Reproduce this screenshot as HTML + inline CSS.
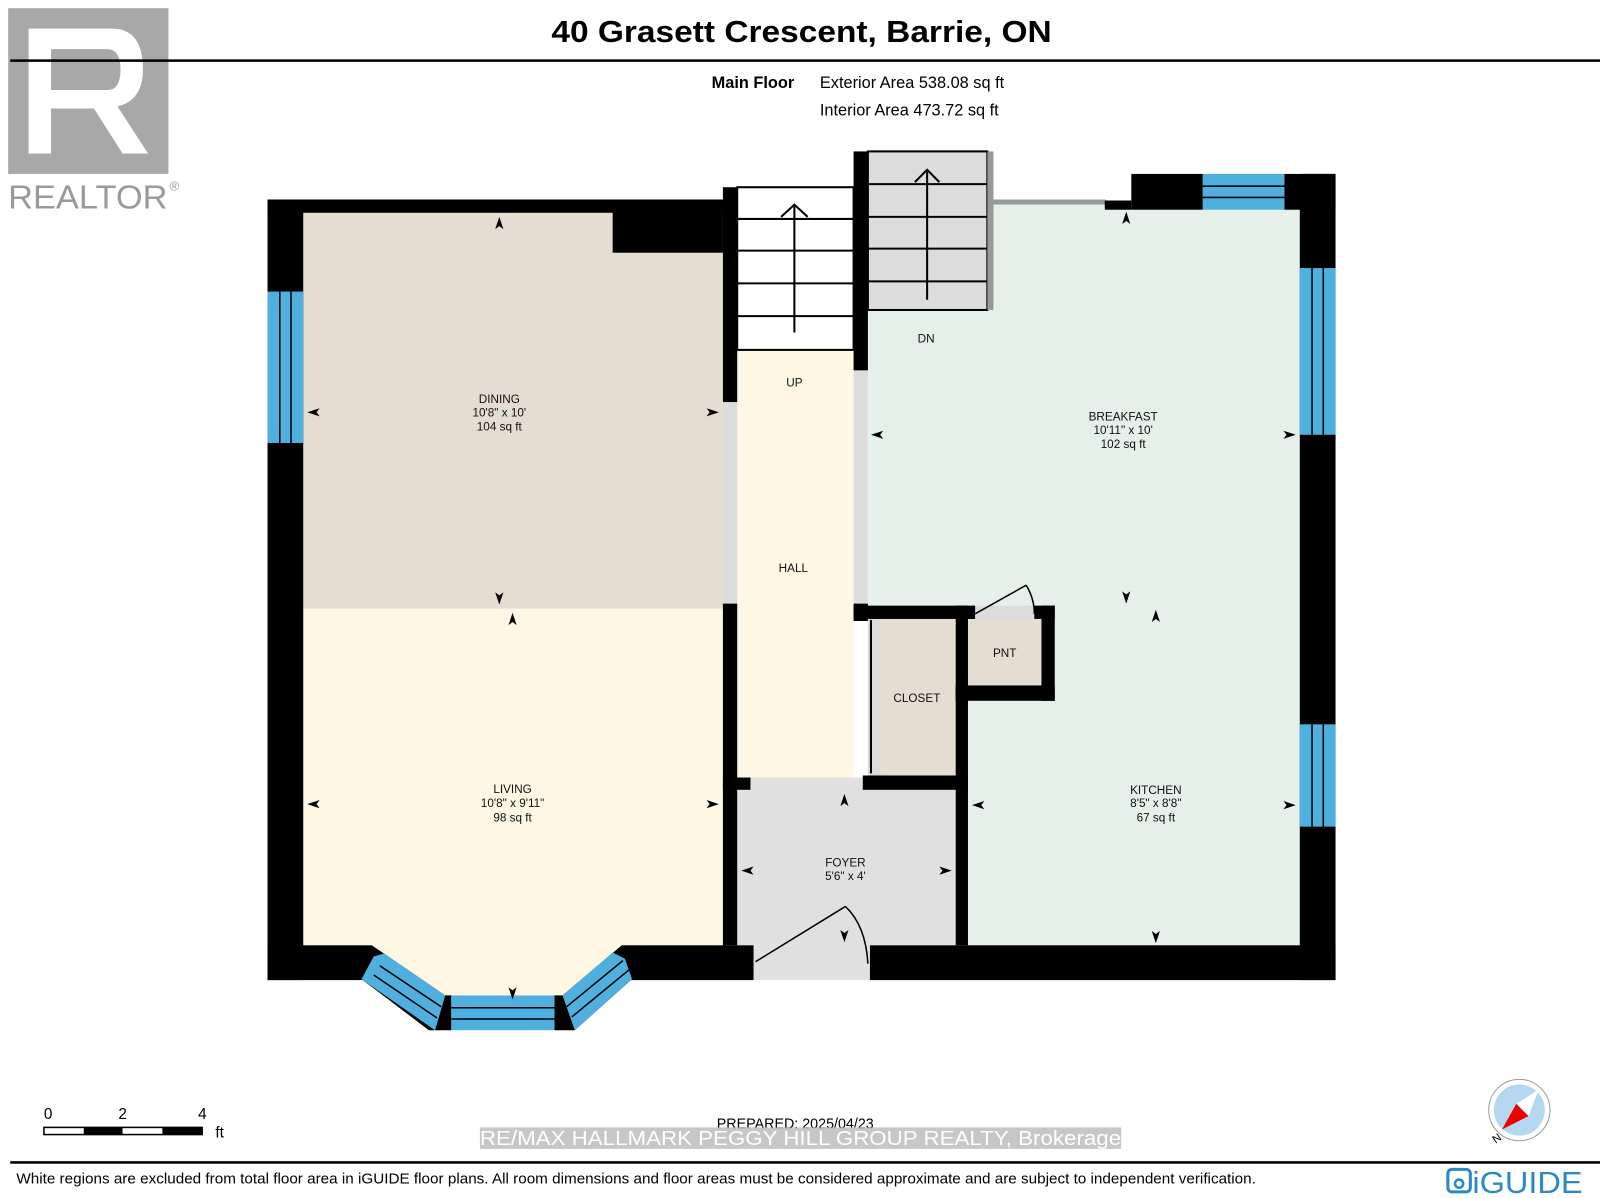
<!DOCTYPE html>
<html><head><meta charset="utf-8"><style>
html,body{margin:0;padding:0;background:#fff;width:1600px;height:1198px;overflow:hidden}
svg{display:block}
text{font-family:"Liberation Sans",Arial,sans-serif}
</style></head><body>
<svg width="1600" height="1198" viewBox="0 0 1567 1171" preserveAspectRatio="none" xmlns="http://www.w3.org/2000/svg">
<!-- Realtor logo -->
<rect x="8" y="8" width="157" height="162" fill="#a8a8a8"/>
<path d="M28 28 H110 Q140 28 140 68 Q140 98 115 104 L145 150 H120 L92 106 H50 V150 H28 Z M50 48 V88 H105 Q118 88 118 68 Q118 48 105 48 Z" fill="#fff"/>
<text x="8" y="204" font-size="33" fill="#9a9a9a" textLength="156" lengthAdjust="spacingAndGlyphs">REALTOR</text>
<text x="166" y="186" font-size="13" fill="#9a9a9a">®</text>
<!-- Title -->
<text x="785" y="41" font-size="30" font-weight="bold" text-anchor="middle" textLength="490" lengthAdjust="spacingAndGlyphs">40 Grasett Crescent, Barrie, ON</text>
<rect x="10" y="58" width="1557" height="2.5" fill="#000"/>
<text x="697" y="86" font-size="16" font-weight="bold">Main Floor</text>
<text x="803" y="86" font-size="16">Exterior Area 538.08 sq ft</text>
<text x="803" y="113" font-size="16">Interior Area 473.72 sq ft</text>

<!-- room fills -->
<rect x="297" y="208" width="411" height="387" fill="#e6ddd2"/>
<polygon points="297,595 708,595 708,924 609,924 551,973 436,973 364,924 297,924" fill="#fdf7e3"/>
<rect x="850" y="200" width="424" height="724" fill="#e5f0ea"/>
<rect x="722" y="342" width="114" height="418" fill="#fdf7e3"/>
<rect x="708" y="393" width="14" height="197" fill="#dcdcdc"/>
<rect x="836" y="362" width="14" height="228" fill="#dcdcdc"/>
<rect x="722" y="770" width="214" height="154" fill="#e0e0e0"/>
<rect x="738" y="924" width="114" height="34" fill="#e0e0e0"/>
<rect x="735" y="760" width="110" height="12" fill="#e0e0e0"/>
<rect x="862" y="605" width="74" height="153" fill="#e6ddd2"/>
<rect x="850" y="605" width="12" height="153" fill="#dcdcdc"/>
<rect x="948" y="605" width="72" height="65" fill="#e6ddd2"/>
<rect x="955" y="592" width="58" height="13" fill="#dcdcdc"/>

<!-- stairs -->
<rect x="722" y="183" width="114" height="159" fill="#fff" stroke="#000" stroke-width="2"/>
<g stroke="#000" stroke-width="2"><line x1="722" y1="214" x2="836" y2="214"/><line x1="722" y1="245" x2="836" y2="245"/><line x1="722" y1="277" x2="836" y2="277"/><line x1="722" y1="309" x2="836" y2="309"/>
<line x1="778" y1="325" x2="778" y2="200"/><polyline points="765,212 778,200 791,212" fill="none"/></g>
<rect x="850" y="148" width="117" height="155" fill="#dcdcdc" stroke="#000" stroke-width="2"/>
<g stroke="#000" stroke-width="2"><line x1="850" y1="180" x2="967" y2="180"/><line x1="850" y1="212" x2="967" y2="212"/><line x1="850" y1="243" x2="967" y2="243"/><line x1="850" y1="275" x2="967" y2="275"/>
<line x1="908" y1="293" x2="908" y2="166"/><polyline points="896,178 908,166 920,178" fill="none"/></g>
<rect x="967" y="148" width="6" height="155" fill="#999"/>
<rect x="973" y="195" width="110" height="5" fill="#999"/>

<!-- walls -->
<g fill="#000">
<rect x="262" y="195" width="35" height="763"/>
<rect x="262" y="195" width="446" height="13"/>
<rect x="600" y="195" width="108" height="52"/>
<rect x="708" y="183" width="14" height="210"/>
<rect x="708" y="590" width="14" height="334"/>
<rect x="836" y="148" width="14" height="214"/>
<rect x="836" y="590" width="14" height="17"/>
<rect x="836" y="592" width="119" height="13"/>
<rect x="1013" y="592" width="20" height="13"/>
<rect x="1020" y="592" width="13" height="93"/>
<rect x="936" y="592" width="12" height="93"/>
<rect x="936" y="670" width="97" height="15"/>
<rect x="936" y="670" width="12" height="254"/>
<rect x="845" y="758" width="103" height="14"/>
<rect x="708" y="760" width="27" height="12"/>
<rect x="262" y="924" width="102" height="34"/>
<rect x="609" y="924" width="129" height="34"/>
<rect x="852" y="924" width="456" height="34"/>
<rect x="1082" y="196" width="26" height="9"/>
<rect x="1108" y="170" width="70" height="35"/>
<rect x="1258" y="170" width="50" height="35"/>
<rect x="1273" y="170" width="35" height="788"/>
<polygon points="354,957 364,924 376,932 436,973 426,1007 420,1007"/>
<polygon points="426,1007 436,973 442,973 442,1007"/>
<polygon points="543,973 551,973 563,1007 543,1007"/>
<polygon points="551,973 609,924 619,957 563,1007"/>
</g>
<rect x="852" y="606" width="2" height="150" fill="#000"/>
<!-- windows -->
<g fill="#4fb0e0">
<rect x="262" y="285" width="35" height="148"/>
<rect x="1178" y="170" width="80" height="35"/>
<rect x="1273" y="262" width="35" height="163"/>
<rect x="1273" y="708" width="35" height="100"/>
<rect x="442" y="973" width="101" height="34"/>
<polygon points="366,935 376,932 436,973 426,1007 354,957"/>
<polygon points="551,973 600,931 612,937 619,957 563,1007"/>
</g>
<g stroke="#000" stroke-width="1.5">
<line x1="274" y1="285" x2="274" y2="433"/><line x1="285" y1="285" x2="285" y2="433"/>
<line x1="1178" y1="182" x2="1258" y2="182"/><line x1="1178" y1="193" x2="1258" y2="193"/>
<line x1="1285" y1="262" x2="1285" y2="425"/><line x1="1296" y1="262" x2="1296" y2="425"/>
<line x1="1285" y1="708" x2="1285" y2="808"/><line x1="1296" y1="708" x2="1296" y2="808"/>
<line x1="442" y1="985" x2="543" y2="985"/><line x1="442" y1="996" x2="543" y2="996"/>
<line x1="372" y1="944" x2="432" y2="984"/><line x1="366" y1="953" x2="428" y2="995"/>
<line x1="555" y1="984" x2="610" y2="939"/><line x1="560" y1="994" x2="616" y2="948"/>
</g>
<!-- doors -->
<g stroke="#000" stroke-width="1.5" fill="none">
<line x1="740" y1="940" x2="828" y2="886"/><path d="M828 886 Q848 905 850 942"/>
<line x1="955" y1="600" x2="1005" y2="572"/><path d="M1005 572 Q1013 585 1013 600"/>
</g>
<!-- arrowheads -->
<g fill="#000">
<path d="M489 212 l-4 12 4-3 4 3z"/><path d="M489 591 l-4 -12 4 3 4 -3z"/>
<path d="M502 599 l-4 12 4-3 4 3z"/><path d="M502 977 l-4 -12 4 3 4 -3z"/>
<path d="M301 403 l12 -4 -3 4 3 4z"/><path d="M704 403 l-12 -4 3 4 -3 4z"/>
<path d="M301 786 l12 -4 -3 4 3 4z"/><path d="M704 786 l-12 -4 3 4 -3 4z"/>
<path d="M1103 207 l-4 12 4-3 4 3z"/><path d="M1103 590 l-4 -12 4 3 4 -3z"/>
<path d="M1132 596 l-4 12 4-3 4 3z"/><path d="M1132 922 l-4 -12 4 3 4 -3z"/>
<path d="M853 425 l12 -4 -3 4 3 4z"/><path d="M1269 425 l-12 -4 3 4 -3 4z"/>
<path d="M952 787 l12 -4 -3 4 3 4z"/><path d="M1269 787 l-12 -4 3 4 -3 4z"/>
<path d="M827 776 l-4 12 4-3 4 3z"/><path d="M827 921 l-4 -12 4 3 4 -3z"/>
<path d="M726 851 l12 -4 -3 4 3 4z"/><path d="M932 851 l-12 -4 3 4 -3 4z"/>
</g>
<!-- labels -->
<g font-size="11.5" text-anchor="middle" fill="#111">
<text x="489" y="394">DINING</text><text x="489" y="407">10'8" x 10'</text><text x="489" y="421">104 sq ft</text>
<text x="502" y="775">LIVING</text><text x="502" y="789">10'8" x 9'11"</text><text x="502" y="803">98 sq ft</text>
<text x="1100" y="411">BREAKFAST</text><text x="1100" y="424">10'11" x 10'</text><text x="1100" y="438">102 sq ft</text>
<text x="1132" y="776">KITCHEN</text><text x="1132" y="789">8'5" x 8'8"</text><text x="1132" y="803">67 sq ft</text>
<text x="828" y="847">FOYER</text><text x="828" y="860">5'6" x 4'</text>
<text x="777" y="559">HALL</text><text x="778" y="378">UP</text><text x="907" y="335">DN</text>
<text x="898" y="686">CLOSET</text><text x="984" y="642">PNT</text>
</g>
<!-- scale -->
<text x="43" y="1094" font-size="15">0</text><text x="116" y="1094" font-size="15">2</text><text x="194" y="1094" font-size="15">4</text>
<rect x="43" y="1102" width="155" height="7" fill="#fff" stroke="#000" stroke-width="1.5"/>
<rect x="82" y="1102" width="38" height="7" fill="#000"/><rect x="159" y="1102" width="39" height="7" fill="#000"/>
<text x="211" y="1112" font-size="15">ft</text>
<text x="702" y="1103" font-size="14">PREPARED: 2025/04/23</text>
<rect x="470" y="1102" width="628" height="21" fill="#bdbdbd" opacity="0.85"/>
<text x="470" y="1119" font-size="20" fill="#fff" textLength="628" lengthAdjust="spacingAndGlyphs">RE/MAX HALLMARK PEGGY HILL GROUP REALTY, Brokerage</text>
<!-- compass -->
<circle cx="1488" cy="1085" r="30" fill="#fff" stroke="#999" stroke-width="1"/>
<circle cx="1488" cy="1085" r="25" fill="#b5d8f2"/>
<polygon points="1507,1065 1497,1091 1485,1079" fill="#fff"/>
<polygon points="1471,1104 1485,1079 1497,1091" fill="#e00"/>
<text x="1462" y="1117" font-size="11" transform="rotate(-35 1465 1113)">N</text>
<rect x="10" y="1135" width="1557" height="2.5" fill="#000"/>
<text x="16" y="1157" font-size="14" textLength="1214" lengthAdjust="spacingAndGlyphs">White regions are excluded from total floor area in iGUIDE floor plans. All room dimensions and floor areas must be considered approximate and are subject to independent verification.</text>
<rect x="1418" y="1143" width="22" height="22" rx="4" fill="none" stroke="#2b8ac6" stroke-width="3"/>
<circle cx="1429" cy="1157" r="4" fill="none" stroke="#2b8ac6" stroke-width="2.5"/>
<text x="1442" y="1166" font-size="30" fill="#2b8ac6" textLength="108" lengthAdjust="spacingAndGlyphs">iGUIDE</text>
</svg>
</body></html>
